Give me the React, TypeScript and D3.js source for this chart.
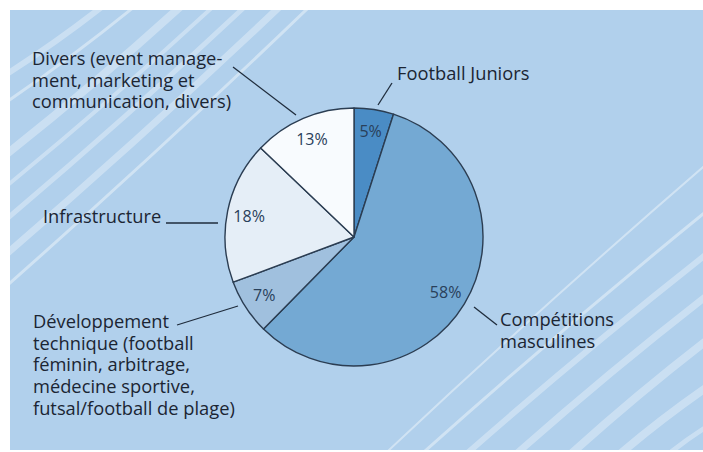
import React from 'react'
import * as d3 from 'd3'

// budget share by area (%), clockwise from 12 o'clock
const categories = [
  'Football Juniors',
  'Compétitions masculines',
  'Développement technique',
  'Infrastructure',
  'Divers',
]
const shares = [5, 58, 7, 18, 13]
const sliceColors = ['#4a8cc5', '#74a9d3', '#a0c0de', '#e5eef7', '#f8fbfe']

// callout text per slice (same order as categories)
const calloutLines = [
  ['Football Juniors'],
  ['Compétitions', 'masculines'],
  [
    'Développement',
    'technique (football',
    'féminin, arbitrage,',
    'médecine sportive,',
    'futsal/football de plage)',
  ],
  ['Infrastructure'],
  ['Divers (event manage-', 'ment, marketing et', 'communication, divers)'],
]

// layout for the callouts: text origin + leader line
const calloutLayout = [
  { x: 397, y: 80, line: [378, 105, 392, 83] },
  { x: 500, y: 326, line: [474, 307, 497, 325] },
  { x: 33, y: 328, line: [238, 306, 177, 325] },
  { x: 43, y: 223, line: [218, 223, 166, 223] },
  { x: 32, y: 65, line: [296, 115, 233, 67] },
]

// decorative background stripes [x0, y0, x1, y1, width]
const stripes = [
  [10, 70, 95, 10, 6],
  [10, 98, 128, 10, 3],
  [10, 150, 175, 10, 8],
  [10, 182, 208, 10, 4],
  [10, 215, 240, 10, 5],
  [10, 250, 275, 10, 7],
  [10, 282, 305, 10, 3],
  [390, 450, 703, 168, 2],
  [425, 452, 703, 215, 3],
  [470, 452, 703, 258, 6],
  [520, 452, 703, 300, 7],
  [575, 452, 703, 345, 8],
  [625, 452, 703, 392, 8],
  [675, 452, 703, 432, 5],
]

const W = 703
const H = 452
const cx = 354
const cy = 237
const R = 129

export default function App() {
  const pie = d3
    .pie<number>()
    .sort(null)
    .value((d) => d)
  const arcs = pie(shares)
  const arc = d3.arc<d3.PieArcDatum<number>>().innerRadius(0).outerRadius(R)
  const labelArc = d3
    .arc<d3.PieArcDatum<number>>()
    .innerRadius(R * 0.83)
    .outerRadius(R * 0.83)

  const font = '"Open Sans", "Noto Sans", sans-serif'

  return (
    <>
      <style>{'body{margin:0}'}</style>
      <svg width={W} height={H} style={{ display: 'block', background: '#fff' }}>
        <defs>
          <clipPath id="panel">
            <rect x={10} y={10} width={W - 10} height={H - 12} />
          </clipPath>
        </defs>
        <rect x={10} y={10} width={W - 10} height={H - 12} fill="#b1d0ec" />
        <g clipPath="url(#panel)" fill="none" stroke="#ffffff" strokeLinecap="butt">
          {stripes.map(([x0, y0, x1, y1, w], i) => {
            // extend past the panel edges, slight bow
            const dx = x1 - x0
            const dy = y1 - y0
            const len = Math.hypot(dx, dy)
            const ux = dx / len
            const uy = dy / len
            const mx = (x0 + x1) / 2
            const my = (y0 + y1) / 2
            const bend = i < 7 ? 4 : -4
            const path = d3.path()
            path.moveTo(x0 - ux * 30, y0 - uy * 30)
            path.quadraticCurveTo(mx + bend, my + bend, x1 + ux * 30, y1 + uy * 30)
            return (
              <path
                key={i}
                d={path.toString()}
                strokeWidth={w}
                strokeOpacity={w < 4 ? 0.4 : 0.33}
              />
            )
          })}
        </g>

        <g transform={`translate(${cx},${cy})`}>
          {arcs.map((a, i) => (
            <path
              key={categories[i]}
              d={arc(a) || ''}
              fill={sliceColors[i]}
              stroke="#2b3d52"
              strokeWidth={1.4}
              strokeLinejoin="round"
            />
          ))}
          {arcs.map((a, i) => {
            const [lx, ly] = labelArc.centroid(a)
            return (
              <text
                key={'p' + i}
                x={lx}
                y={ly}
                textAnchor="middle"
                dominantBaseline="central"
                fontFamily={font}
                fontSize={16}
                fill="#29405a"
              >
                {shares[i]}%
              </text>
            )
          })}
        </g>

        {calloutLayout.map((c, i) => (
          <g key={'c' + i}>
            <line
              x1={c.line[0]}
              y1={c.line[1]}
              x2={c.line[2]}
              y2={c.line[3]}
              stroke="#1f2c3c"
              strokeWidth={1.3}
            />
            <text x={c.x} y={c.y} fontFamily={font} fontSize={18.3} fill="#1b2533">
              {calloutLines[i].map((t, j) => (
                <tspan key={j} x={c.x} dy={j === 0 ? 0 : 21.7}>
                  {t}
                </tspan>
              ))}
            </text>
          </g>
        ))}
      </svg>
    </>
  )
}
